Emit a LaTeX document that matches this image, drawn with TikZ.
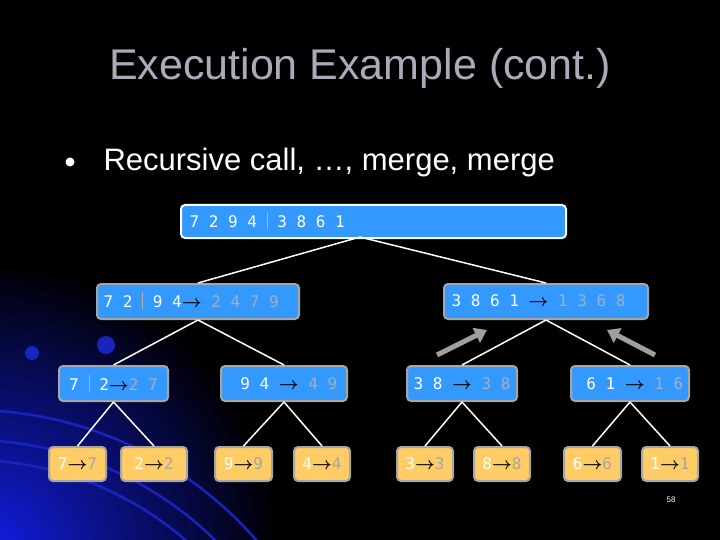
\documentclass[tikz,border=0pt]{standalone}
\usepackage{amsmath}
\usepackage{fontspec}
\setmainfont{DejaVu Sans Mono}
\newfontfamily\titlefont{Liberation Sans}
\usetikzlibrary{arrows.meta}
\definecolor{boxblue}{RGB}{51,153,255}
\definecolor{boxyel}{RGB}{255,204,102}
\definecolor{arcblue}{RGB}{25,35,190}
\definecolor{glowblue}{RGB}{20,30,235}
\definecolor{resgray}{RGB}{160,175,195}
\definecolor{titlegray}{RGB}{170,170,185}
\begin{document}
\begin{tikzpicture}[x=1pt,y=-1pt,
 bl/.style={draw=gray!70,line width=2pt,fill=boxblue,rounded corners=4pt,anchor=north west,inner sep=0pt},
 yl/.style={bl,fill=boxyel},
 lab/.style={text=white,font=\fontsize{16}{16}\selectfont},
 ed/.style={white,line width=1.5pt}]
\useasboundingbox (0,0) rectangle (720,540);
\fill[black] (0,0) rectangle (720,540);
\begin{scope}
\clip (0,0) rectangle (720,540);
\shade[inner color=glowblue,outer color=black] (-20,560) circle (300);
\foreach \r in {330,350,380}{\draw[arcblue,line width=2.5pt] (-30,790) circle (\r);}
\fill[arcblue] (32,353) circle (7);
\fill[arcblue] (106,345) circle (9);
\end{scope}
\node[text=titlegray,font=\titlefont\fontsize{43}{43}\selectfont] (title) at (360,68) {Execution Example (cont.)};
\fill[white] (70,162) circle (4.5);
\node[anchor=west,text=white,font=\titlefont\fontsize{31}{31}\selectfont] (bul) at (100,162) {Recursive call, …, merge, merge};
\newcommand{\sepbar}{\textcolor{gray!60}{\rule[-2pt]{1.2pt}{17pt}}}
\newcommand{\arw}{\textcolor{black}{$\boldsymbol{\rightarrow}$}}
% root
\node[bl,draw=white,minimum width=385,minimum height=33] (r) at (180,204) {};
\node[lab,anchor=west] (rt) at (186,220.5) {7 2 9 4 \sepbar\ 3 8 6 1};
% level1
\node[bl,minimum width=202,minimum height=35] (a) at (96,283) {};
\node[lab,anchor=west] (at) at (100,300.5) {7 2 \sepbar\ 9 4\arw\ \textcolor{resgray}{2 4 7 9}};
\node[bl,minimum width=204,minimum height=35] (b) at (443,283) {};
\node[lab,anchor=west] (bt) at (448,300.5) {3 8 6 1 \arw\ \textcolor{resgray}{1 3 6 8}};
% level2
\foreach \n/\x/\w/\t in {c/58/109/{7 \sepbar\ 2\arw\textcolor{resgray}{2 7}},d/220/126/{\ 9 4 \arw\ \textcolor{resgray}{4 9}},e/406/110/{3 8 \arw\ \textcolor{resgray}{3 8}},f/570/118/{\ 6 1 \arw\ \textcolor{resgray}{1 6}}}{
 \node[bl,minimum width=\w,minimum height=35] (\n) at (\x,365) {};
 \node[lab,anchor=center] (\n t) at (\n.center) {\t};}
% level3
\foreach \n/\x/\w/\t in {g/48/57/7,h/120/66/2,i/214/57/9,j/293/56/4,k/396/56/3,l/473/56/8,m/563/57/6,o/641/56/1}{
 \node[yl,minimum width=\w,minimum height=34] (\n) at (\x,446) {};
 \node[lab,anchor=center] (\n t) at (\n.center) {\t\arw\textcolor{gray!70}{\t}};}
% edges
\coordinate (r1) at (360,237);
\draw[ed] (r1) -- (a.north);
\draw[ed] (r1) -- (b.north);
\draw[ed] (a.south) -- (c.north);
\draw[ed] (a.south) -- (d.north);
\draw[ed] (b.south) -- (e.north);
\draw[ed] (b.south) -- (f.north);
\draw[ed] (c.south) -- (g.north);
\draw[ed] (c.south) -- (h.north);
\draw[ed] (d.south) -- (i.north);
\draw[ed] (d.south) -- (j.north);
\draw[ed] (e.south) -- (k.north);
\draw[ed] (e.south) -- (l.north);
\draw[ed] (f.south) -- (m.north);
\draw[ed] (f.south) -- (o.north);
% grey merge arrows
\coordinate (p1) at (437,355); \coordinate (q1) at (487,330);
\coordinate (p2) at (655,355); \coordinate (q2) at (607,330);
\draw[gray!75,line width=5pt,-{Triangle[length=12pt,width=16pt]}] (p1) -- (q1);
\draw[gray!75,line width=5pt,-{Triangle[length=12pt,width=16pt]}] (p2) -- (q2);
\node[text=white,font=\titlefont\fontsize{8}{8}\selectfont] (pg) at (671,500) {58};
\end{tikzpicture}
\end{document}
